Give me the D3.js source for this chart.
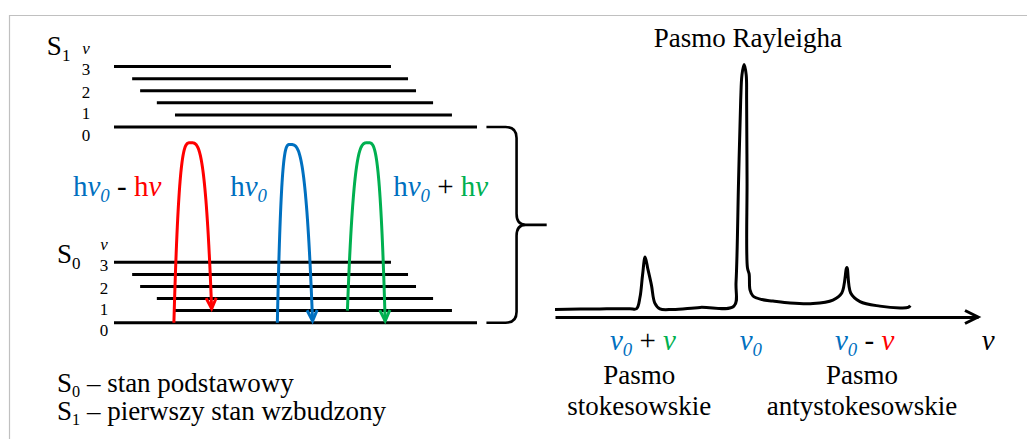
<!DOCTYPE html>
<html><head><meta charset="utf-8">
<script src="https://cdn.jsdelivr.net/npm/d3@7"></script>
<style>
html,body{margin:0;padding:0;background:#fff;}
svg{display:block;}
</style></head><body>
<svg id="chart" width="1027" height="439"></svg>
<script>
// ================= DATA =================
// Vibrational levels (index 0 = lowest), extents in diagram units (0..100)
const levelIndex = [0, 1, 2, 3, 4, 5];
const levelStart = [0, 16.8, 11.8, 7.2, 5, 0];
const levelEnd   = [100, 93.1, 87.9, 83.2, 81, 76.3];
// electronic states and their base energies (arbitrary units)
const stateNames = ["S", "S"];
const stateSubs  = ["0", "1"];
const stateBase  = [0, 16.2];
// vibrational quantum number labels
const levelLabels   = ["0", "1", "2", "3"];
const levelLabelPos = [-0.62, 1.16, 2.89, 4.79];
const vLabelPos = 6.44;
// transitions: [x, level] from, apex [x, energy], to [x, level]
const transNames = ["Stokes", "Rayleigh", "anti-Stokes"];
const transFrom  = [[16.5, 0], [45.0, 0], [64.3, 1]];
const transApex  = [[21.1, 14.9], [48.5, 14.75], [70.0, 14.9]];
const transTo    = [[26.9, 1], [54.7, 0], [74.7, 0]];
// spectrum (frequency axis units 0..100, intensity 0..100)
const specX = [0, 10.6, 17.7, 19.3, 20.1, 20.7, 21.3, 22.0, 22.8, 23.6, 24.8, 27.9, 34.3,
               42.3, 42.8, 43.4, 43.9, 44.2, 44.7, 45.2, 45.3, 45.4, 45.5, 45.9, 46.1, 46.8, 48.9,
               51.5, 55.6, 61.0, 65.7, 67.8, 69.0, 69.9, 72.1, 76.8, 81.6, 83.5, 84.0];
const specY = [3.0, 3.2, 3.3, 3.3, 7.9, 16.6, 23.7, 18.6, 12.6, 5.5, 3.2, 3.0, 3.8,
               4.3, 13.8, 54.2, 85.8, 95.7, 99.8, 95.7, 85.8, 54.2, 19.4, 17.0, 10.7, 8.3, 6.9,
               6.3, 5.5, 5.3, 6.7, 9.5, 19.6, 9.5, 6.1, 4.3, 3.6, 3.8, 4.5];
// spectrum band labels
const bandLabelPos = [20.8, 46.3, 73.2];
const bandNamePos  = [19.9, 72.6];
const bandNames    = [["Pasmo", "stokesowskie"], ["Pasmo", "antystokesowskie"]];
const rayleighTitle = "Pasmo Rayleigha";
const rayleighPos = 45.6;
const legendLines = [["S", "0", " – stan podstawowy"], ["S", "1", " – pierwszy stan wzbudzony"]];

// ================= STYLE / LAYOUT =================
const FONT = "Liberation Serif";
const RED = "#ff0000", BLUE = "#0070c0", GREEN = "#00b050";
const transColors = [RED, BLUE, GREEN];
const svg = d3.select("#chart");

// frame
svg.append("path").attr("d", "M9.5,439V15.5H1027").attr("fill", "none")
  .attr("stroke", "#c0c0c0").attr("stroke-width", 1.2);

const xD = d3.scaleLinear().domain([0, 100]).range([114, 477]);
const yE = d3.scaleLinear().domain([0, 5]).range([322.7, 262.3]);

function txt(g) {
  return g.append("text").attr("font-family", FONT)
    .style("white-space", "pre").attr("fill", "#000");
}
function rich(g, x, y, segs, size, anchor) {
  const t = txt(g).attr("x", x).attr("y", y).attr("font-size", size)
    .attr("text-anchor", anchor || "start");
  let shift = 0;
  segs.forEach(s => {
    const ts = t.append("tspan").text(s.t);
    if (s.c) ts.attr("fill", s.c);
    if (s.i) ts.attr("font-style", "italic");
    const target = s.sub ? size * (s.subShift || 0.22) : 0;
    if (target !== shift) { ts.attr("dy", target - shift); shift = target; }
    if (s.sub) ts.attr("font-size", size * (s.subScale || 0.65));
  });
  return t;
}

// ---- energy levels ----
const diag = svg.append("g");
const stateLayout = [
  { labelX: -2.75, nameX: -15.7, nameE: 4.94 },
  { labelX: -7.7,  nameX: -18.5, nameE: 5.96 }
];
stateBase.forEach((base, si) => {
  diag.append("g").selectAll("line").data(levelIndex).join("line")
    .attr("x1", i => xD(levelStart[i])).attr("x2", i => xD(levelEnd[i]))
    .attr("y1", i => yE(base + i)).attr("y2", i => yE(base + i))
    .attr("stroke", "#000").attr("stroke-width", 3);
  const L = stateLayout[si];
  levelLabels.forEach((d, k) => {
    txt(diag).attr("x", xD(L.labelX)).attr("y", yE(base + levelLabelPos[k]))
      .attr("dy", "0.36em").attr("text-anchor", "middle").attr("font-size", 17)
      .text(d);
  });
  txt(diag).attr("x", xD(L.labelX)).attr("y", yE(base + vLabelPos))
    .attr("dy", "0.3em").attr("text-anchor", "middle").attr("font-size", 17)
    .attr("font-style", "italic").text("v");
  rich(diag, xD(L.nameX), yE(base + L.nameE),
    [{ t: stateNames[si] }, { t: stateSubs[si], sub: 1, subScale: 0.63 }], 27);
});

// ---- transitions ----
transNames.forEach((name, k) => {
  const x0 = xD(transFrom[k][0]), y0 = yE(transFrom[k][1]);
  const xa = xD(transApex[k][0]), ya = yE(transApex[k][1]);
  const x1 = xD(transTo[k][0]),   y1 = yE(transTo[k][1] + 0.15);
  const pts = [];
  const n = 40;
  for (let j = n; j >= 0; j--) {
    const s = j / n, t = s * s * s;
    pts.push([xa + (x0 - xa) * Math.pow(t, 0.3), ya + (y0 - ya) * t]);
  }
  for (let j = 1; j <= n; j++) {
    const s = j / n, t = s * s * s;
    pts.push([xa + (x1 - xa) * Math.pow(t, 0.3), ya + (y1 - ya) * t]);
  }
  diag.append("path").attr("d", d3.line()(pts)).attr("fill", "none")
    .attr("stroke", transColors[k]).attr("stroke-width", 3);
  // arrow head
  const p = pts[pts.length - 1], q = pts[pts.length - 4];
  const ang = Math.atan2(q[1] - p[1], q[0] - p[0]);
  const len = 12, spread = 25 * Math.PI / 180;
  const a1 = [p[0] + len * Math.cos(ang + spread), p[1] + len * Math.sin(ang + spread)];
  const a2 = [p[0] + len * Math.cos(ang - spread), p[1] + len * Math.sin(ang - spread)];
  diag.append("path").attr("d", d3.line()([a1, p, a2])).attr("fill", "none")
    .attr("stroke", transColors[k]).attr("stroke-width", 3);
});

// transition labels
const labY = yE(10.5);
rich(diag, xD(-11.3), labY, [
  { t: "h", c: BLUE }, { t: "v", c: BLUE, i: 1 }, { t: "0", c: BLUE, i: 1, sub: 1 },
  { t: " - " }, { t: "h", c: RED }, { t: "v", c: RED, i: 1 }], 29);
rich(diag, xD(32), labY, [
  { t: "h", c: BLUE }, { t: "v", c: BLUE, i: 1 }, { t: "0", c: BLUE, i: 1, sub: 1 }], 29);
rich(diag, xD(76.9), labY, [
  { t: "h", c: BLUE }, { t: "v", c: BLUE, i: 1 }, { t: "0", c: BLUE, i: 1, sub: 1 },
  { t: " + " }, { t: "h", c: GREEN }, { t: "v", c: GREEN, i: 1 }], 29);

// ---- brace ----
{
  const top = yE(stateBase[1]), bot = yE(stateBase[0]), mid = (top + bot) / 2;
  const xb = xD(102.6), xv = xD(110.9), xt = xD(119.2);
  const r = 11;
  const d = `M${xb},${top}L${xv - r},${top}Q${xv},${top} ${xv},${top + r}` +
    `L${xv},${mid - r}Q${xv},${mid} ${xv + 9},${mid}L${xt},${mid}` +
    `M${xv + 9},${mid}Q${xv},${mid} ${xv},${mid + r}` +
    `L${xv},${bot - r}Q${xv},${bot} ${xv - r},${bot}L${xb},${bot}`;
  diag.append("path").attr("d", d).attr("fill", "none").attr("stroke", "#000")
    .attr("stroke-width", 2.6);
}

// ---- spectrum ----
const xs = d3.scaleLinear().domain([0, 100]).range([555, 978]);
const ys = d3.scaleLinear().domain([0, 100]).range([317, 64]);
const spec = svg.append("g");
spec.append("path")
  .attr("d", d3.line().x(i => xs(specX[i])).y(i => ys(specY[i]))
    .curve(d3.curveCatmullRom.alpha(0.5))(specX.map((_, i) => i)))
  .attr("fill", "none").attr("stroke", "#000").attr("stroke-width", 3)
  .attr("stroke-linejoin", "round");

// axis
const axG = spec.append("g").attr("transform", `translate(0,${ys(0)})`)
  .call(d3.axisBottom(xs).tickValues([]).tickSizeOuter(0));
axG.select(".domain").attr("stroke", "#000").attr("stroke-width", 3);
{
  const tipX = xs(100), tipY = ys(0);
  spec.append("path").attr("d", d3.line()([[tipX - 13, tipY - 6.5], [tipX, tipY], [tipX - 13, tipY + 6.5]]))
    .attr("fill", "none").attr("stroke", "#000").attr("stroke-width", 3);
}

// band labels
const bandY = ys(0) + 33;
rich(spec, xs(bandLabelPos[0]), bandY, [
  { t: "v", c: BLUE, i: 1 }, { t: "0", c: BLUE, i: 1, sub: 1 }, { t: " + " },
  { t: "v", c: GREEN, i: 1 }], 29, "middle");
rich(spec, xs(bandLabelPos[1]), bandY, [
  { t: "v", c: BLUE, i: 1 }, { t: "0", c: BLUE, i: 1, sub: 1 }], 29, "middle");
rich(spec, xs(bandLabelPos[2]), bandY, [
  { t: "v", c: BLUE, i: 1 }, { t: "0", c: BLUE, i: 1, sub: 1 }, { t: " - " },
  { t: "v", c: RED, i: 1 }], 29, "middle");
txt(spec).attr("x", xs(102.4)).attr("y", bandY).attr("text-anchor", "middle")
  .attr("font-size", 29).attr("font-style", "italic").text("v");

bandNames.forEach((lines, k) => {
  lines.forEach((s, j) => {
    txt(spec).attr("x", xs(bandNamePos[k])).attr("y", ys(0) + 67 + j * 31)
      .attr("text-anchor", "middle").attr("font-size", 27).text(s);
  });
});
txt(spec).attr("x", xs(rayleighPos)).attr("y", 47).attr("text-anchor", "middle")
  .attr("font-size", 27).text(rayleighTitle);

// legend
legendLines.forEach((l, j) => {
  rich(svg, 57, 392 + j * 28, [{ t: l[0] }, { t: l[1], sub: 1, subScale: 0.6, subShift: 0.17 }, { t: l[2] }], 27);
});
</script>
</body></html>
